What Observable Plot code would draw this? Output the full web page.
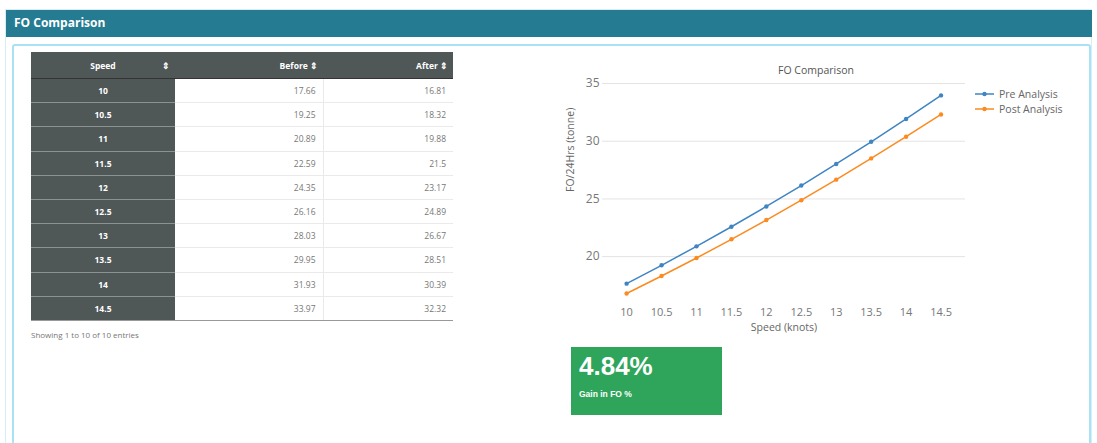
<!DOCTYPE html>
<html><head><meta charset="utf-8">
<script src="https://cdn.jsdelivr.net/npm/d3@7"></script>
<script src="https://cdn.jsdelivr.net/npm/@observablehq/plot@0.6"></script>
<style>
body{margin:0;width:1097px;height:443px;overflow:hidden;background:#fff;font-family:"Open Sans",Arial,sans-serif;position:relative}
#outer{position:absolute;left:5px;top:9px;width:1087px;height:460px;border:1px solid #d6eef6;box-sizing:border-box}
#hdr{position:absolute;left:6px;top:10px;width:1086px;height:27px;background:#247b92;color:#fff;font-weight:bold;font-size:12px;line-height:26px;padding-left:8px;box-sizing:border-box;font-family:"Open Sans",Arial,sans-serif}
#panel{position:absolute;left:12px;top:44px;width:1079px;height:430px;border:2px solid #a9e2f4;border-radius:3px;box-sizing:border-box}
table{position:absolute;left:31px;top:52px;width:422px;border-collapse:collapse;font-size:8.5px;table-layout:fixed}
th{background:#4f5757;color:#fff;font-weight:bold;height:26px;padding:0 5px;border-bottom:1px solid #333}
td{height:23.2px;padding:0 7px;color:#777;border-top:1px solid #eaeaea;text-align:right}
td.sp{background:#4f5757;color:#fff;font-weight:bold;text-align:center;border-top:1px solid #8b9292}
td.b{border-right:1px solid #eaeaea}
tr:last-child td{border-bottom:1px solid #999}
#info{position:absolute;left:31px;top:329px;font-size:8px;color:#777}
#chart{position:absolute;left:540px;top:55px}
#ctitle{position:absolute;left:740px;width:152px;text-align:center;top:63px;font-size:10.5px;color:#555}
#legend{position:absolute;left:975px;top:86px;font-size:10.5px;color:#666}
#legend div{height:15px;display:flex;align-items:center}
#legend svg{margin-right:5px}
#gain{position:absolute;left:571px;top:347px;width:151px;height:68px;background:#2ea55b;color:#fff}
#gain .v{position:absolute;left:8px;top:4px;font-size:26px;font-weight:bold;font-family:Arial,"Liberation Sans",sans-serif}
#gain .l{position:absolute;left:8px;top:42px;font-size:8.5px;font-weight:bold;font-family:Arial,"Liberation Sans",sans-serif}
</style></head>
<body>
<div id="outer"></div>
<div id="hdr">FO Comparison</div>
<div id="panel"></div>
<table id="tbl"></table>
<div id="info">Showing 1 to 10 of 10 entries</div>
<div id="chart"></div>
<div id="ctitle">FO Comparison</div>
<div id="legend"></div>
<div id="gain"><div class="v">4.84%</div><div class="l">Gain in FO %</div></div>
<script>
const speeds = [10, 10.5, 11, 11.5, 12, 12.5, 13, 13.5, 14, 14.5];
const before = [17.66, 19.25, 20.89, 22.59, 24.35, 26.16, 28.03, 29.95, 31.93, 33.97];
const after  = [16.81, 18.32, 19.88, 21.5, 23.17, 24.89, 26.67, 28.51, 30.39, 32.32];
const seriesNames = ["Pre Analysis", "Post Analysis"];
const seriesColors = ["#3f84c3", "#fb8a20"];
const yTicks = [20, 25, 30, 35];
const headers = ["Speed", "Before", "After"];

// table
const tbl = document.getElementById("tbl");
let html = '<colgroup><col style="width:144px"><col style="width:148px"><col style="width:130px"></colgroup>';
html += '<tr><th style="text-align:center;position:relative">' + headers[0] + '<span style="position:absolute;right:5px;top:8px">&#8661;</span></th>' +
        '<th style="text-align:right">' + headers[1] + ' &#8661;</th>' +
        '<th style="text-align:right">' + headers[2] + ' &#8661;</th></tr>';
speeds.forEach((s, i) => {
  html += '<tr><td class="sp">' + s + '</td><td class="b">' + before[i] + '</td><td>' + after[i] + '</td></tr>';
});
tbl.innerHTML = html;

// legend
const leg = document.getElementById("legend");
seriesNames.forEach((n, i) => {
  leg.innerHTML += '<div><svg width="19" height="6"><line x1="0" y1="3" x2="19" y2="3" stroke="' + seriesColors[i] + '" stroke-width="1.5"/><circle cx="9.5" cy="3" r="2.2" fill="' + seriesColors[i] + '"/></svg>' + n + '</div>';
});

// chart
const data = speeds.flatMap((s, i) => [
  {speed: s, value: before[i], series: seriesNames[0]},
  {speed: s, value: after[i], series: seriesNames[1]}
]);
const chart = Plot.plot({
  width: 550, height: 290,
  marginLeft: 62, marginRight: 125, marginTop: 28, marginBottom: 45,
  style: {fontFamily: '"Open Sans", Arial, sans-serif', color: "#777", background: "transparent"},
  x: {type: "linear", domain: [9.655, 14.85]},
  y: {domain: [16.2, 35]},
  color: {domain: seriesNames, range: seriesColors},
  marks: [
    Plot.gridY(yTicks, {stroke: "#e3e3e3", strokeOpacity: 1, strokeWidth: 1}),
    Plot.axisY(yTicks, {tickSize: 0, tickPadding: 3, label: null, fontSize: 12, fill: "#777"}),
    Plot.axisX(speeds, {tickSize: 0, tickPadding: 8, label: null, fontSize: 11, fill: "#777", tickFormat: d => String(d)}),
    Plot.text(["FO/24Hrs (tonne)"], {frameAnchor: "left", dx: -32, rotate: -90, fontSize: 10.5, fill: "#666"}),
    Plot.text(["Speed (knots)"], {frameAnchor: "bottom", dy: 30, fontSize: 10.5, fill: "#666"}),
    Plot.line(data, {x: "speed", y: "value", stroke: "series", strokeWidth: 1.5}),
    Plot.dot(data, {x: "speed", y: "value", fill: "series", r: 2.2})
  ]
});
document.getElementById("chart").appendChild(chart);
</script>
</body></html>
